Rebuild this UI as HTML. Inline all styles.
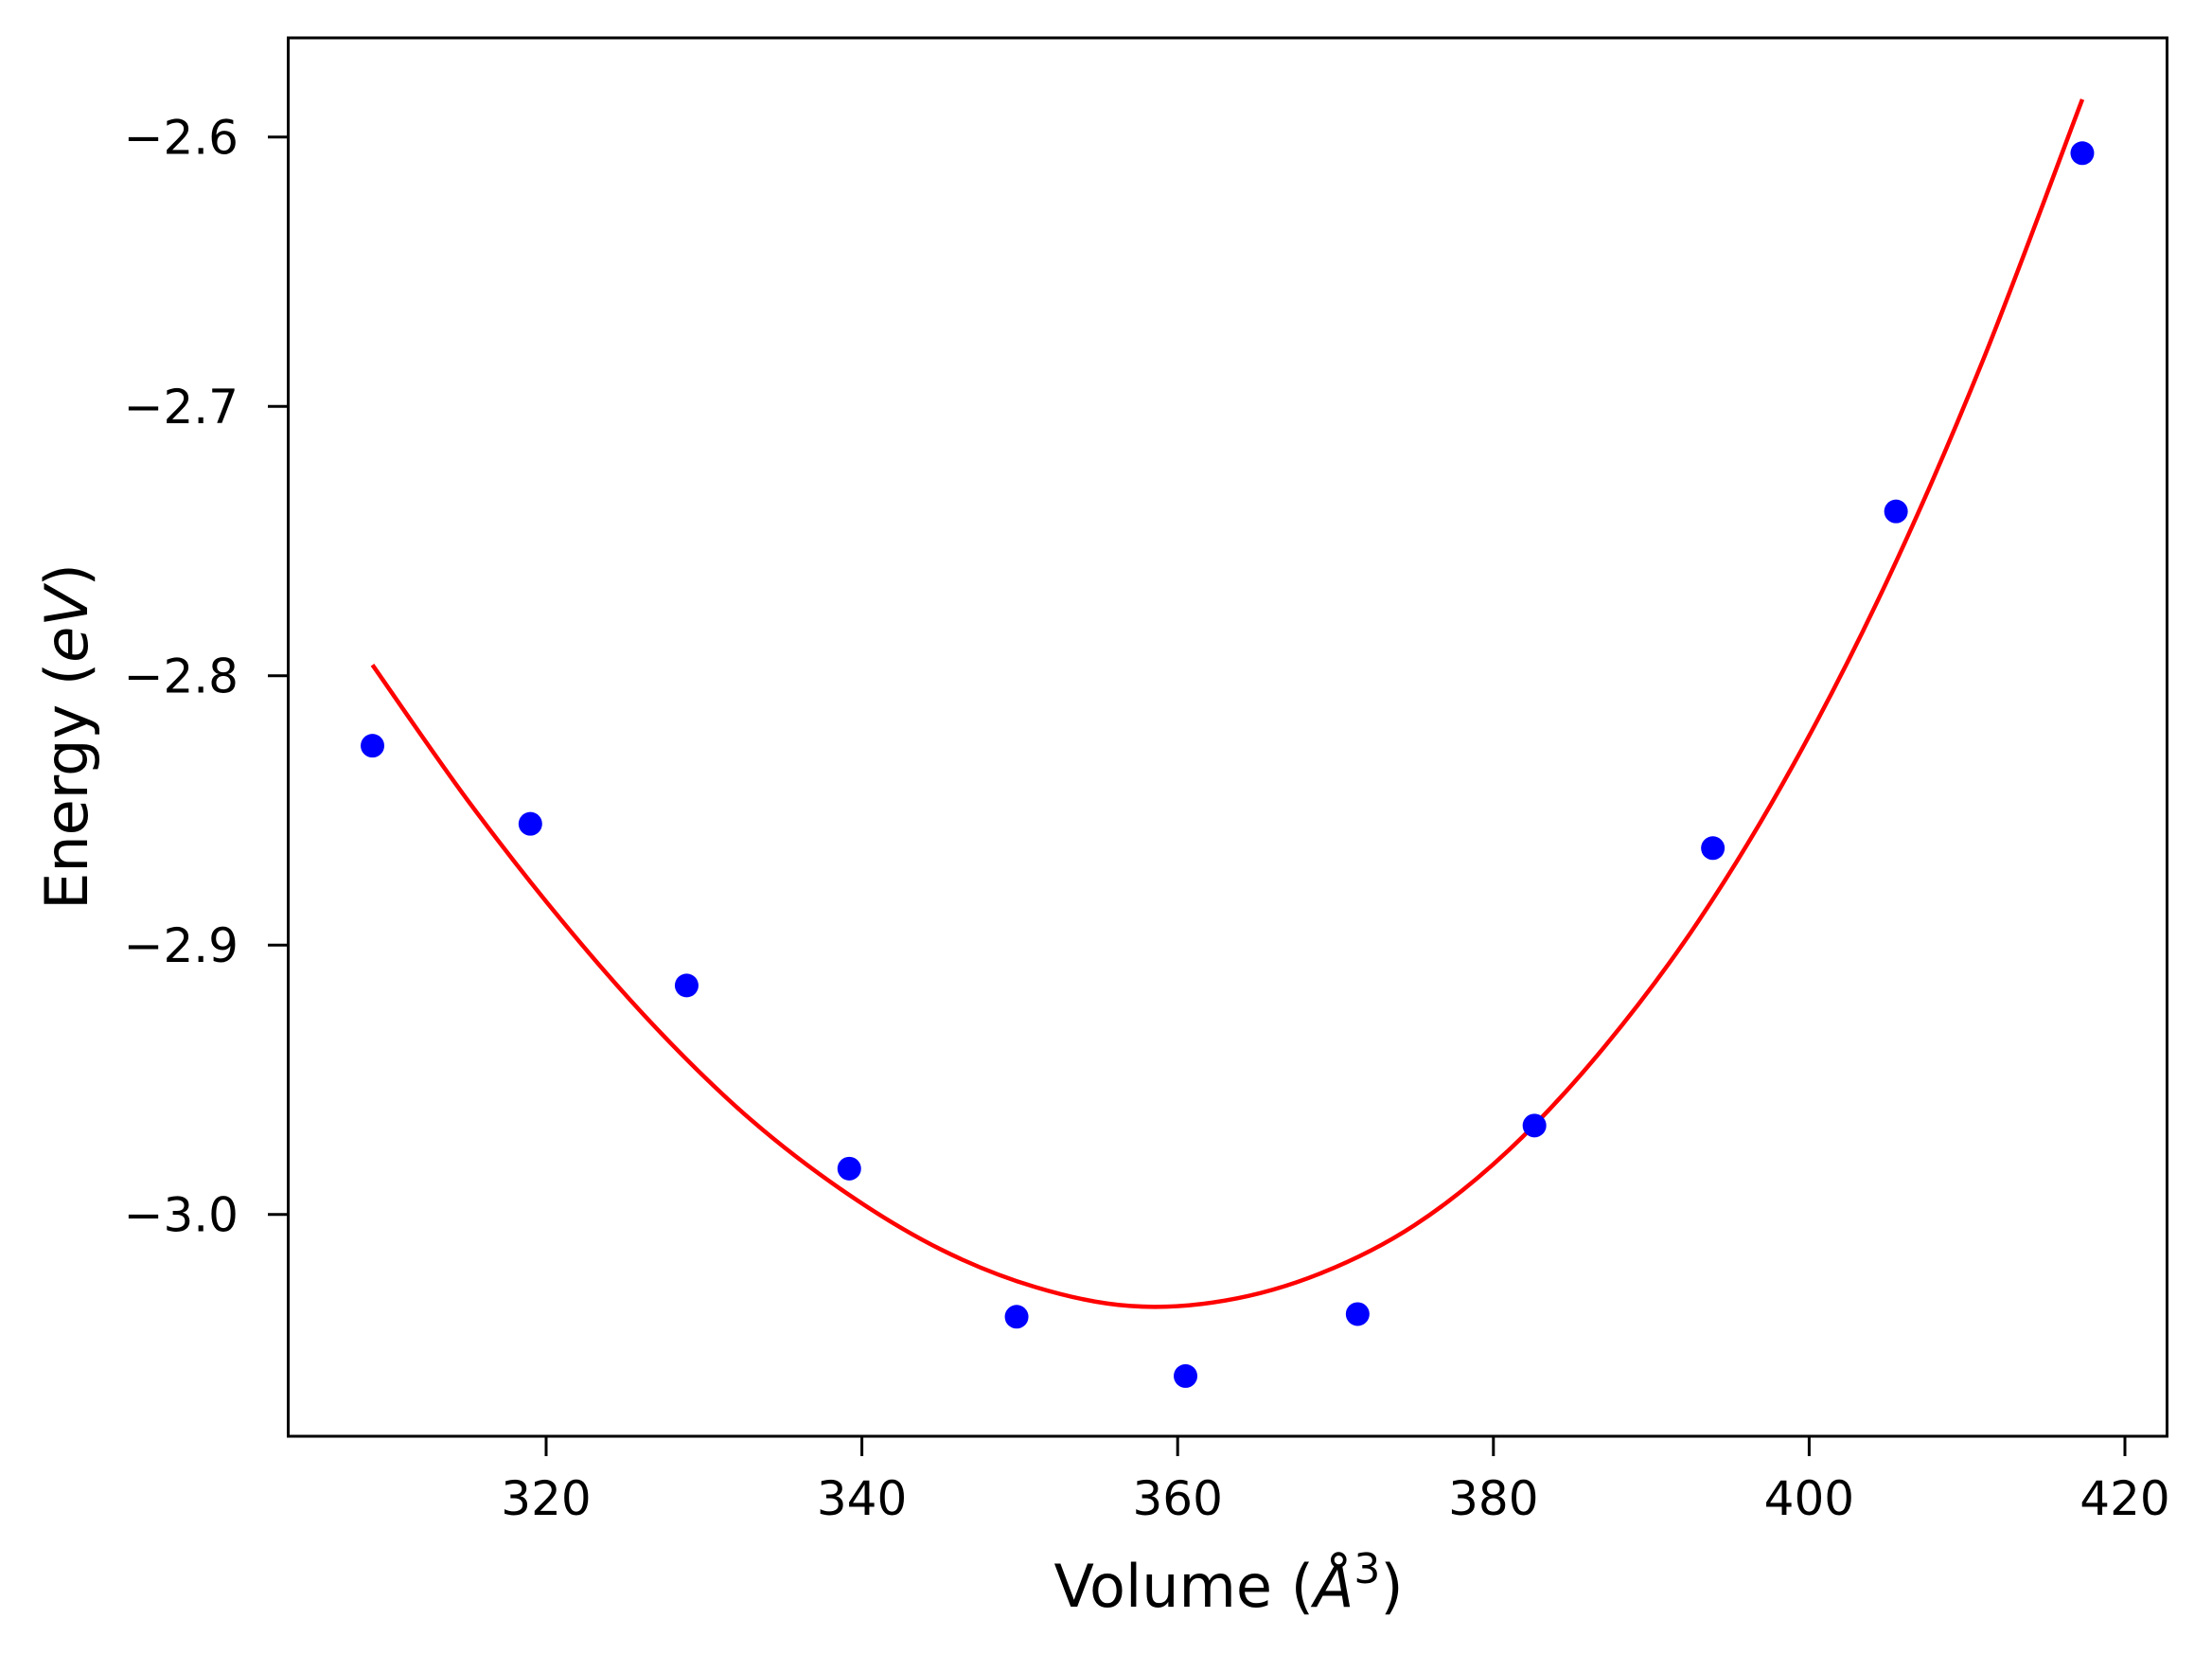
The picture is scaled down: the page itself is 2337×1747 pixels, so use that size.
<!DOCTYPE html>
<html><head><meta charset="utf-8"><style>
html,body{margin:0;padding:0;background:#fff;}
svg{display:block;}
text{font-family:"DejaVu Sans","Liberation Sans",sans-serif;fill:#000;}
</style></head><body>
<svg id="chart" width="2337" height="1747" viewBox="0 0 2337 1747" xmlns="http://www.w3.org/2000/svg">
<rect x="0" y="0" width="2337" height="1747" fill="#fff"/>
<g id="plot"></g>
<rect x="304.5" y="40" width="1985" height="1477" fill="none" stroke="#000" stroke-width="3"/>
<g id="xticks"></g><g id="yticks"></g>
<text x="1298" y="1697" font-size="62" text-anchor="middle">Volume (<tspan font-style="italic">Å</tspan><tspan font-size="44" dy="-25">3</tspan><tspan dy="25">)</tspan></text>
<text x="0" y="0" font-size="62" text-anchor="middle" transform="translate(92,778) rotate(-90)">Energy (<tspan font-style="italic">eV</tspan>)</text>
</svg>
<script>
const pointVolumes=[309.0,319.0,328.9,339.2,349.8,360.5,371.4,382.6,393.9,405.5,417.3];
const pointEnergies=[-2.826,-2.855,-2.915,-2.983,-3.038,-3.060,-3.037,-2.967,-2.864,-2.739,-2.606];
const fitVolumes=[309,315,321,327,333,339,345,351,357,363,369,375,381,387,393,399,405,411,417.3];
const fitEnergies=[-2.796,-2.846,-2.891,-2.931,-2.965,-2.992,-3.013,-3.027,-3.034,-3.032,-3.022,-3.004,-2.976,-2.938,-2.891,-2.833,-2.764,-2.683,-2.586];
const xTicks=[320,340,360,380,400,420];
const yTicks=[-2.6,-2.7,-2.8,-2.9,-3.0];
const yTickLabels=["\u22122.6","\u22122.7","\u22122.8","\u22122.9","\u22123.0"];

const NS="http://www.w3.org/2000/svg";
function X(v){return 577+(v-320)*16.68;}
function Y(e){return 144.7+(-2.6-e)*2845;}

const plot=document.getElementById('plot');
const pts=fitVolumes.map((v,i)=>[X(v),Y(fitEnergies[i])]);
let d='M'+pts[0][0].toFixed(1)+','+pts[0][1].toFixed(1);
for(let i=0;i<pts.length-1;i++){
  const p0=pts[Math.max(0,i-1)],p1=pts[i],p2=pts[i+1],p3=pts[Math.min(pts.length-1,i+2)];
  const c1=[p1[0]+(p2[0]-p0[0])/6,p1[1]+(p2[1]-p0[1])/6];
  const c2=[p2[0]-(p3[0]-p1[0])/6,p2[1]-(p3[1]-p1[1])/6];
  d+=' C'+c1[0].toFixed(1)+','+c1[1].toFixed(1)+' '+c2[0].toFixed(1)+','+c2[1].toFixed(1)+' '+p2[0].toFixed(1)+','+p2[1].toFixed(1);
}
const path=document.createElementNS(NS,'path');


path.setAttribute('d',d);
path.setAttribute('fill','none');path.setAttribute('stroke','#ff0000');path.setAttribute('stroke-width','4.5');path.setAttribute('stroke-linejoin','round');
plot.appendChild(path);
pointVolumes.forEach((v,i)=>{
  const c=document.createElementNS(NS,'circle');
  
  
  c.setAttribute('cx',X(v));c.setAttribute('cy',Y(pointEnergies[i]));c.setAttribute('r','12.5');c.setAttribute('fill','#0000ff');
  plot.appendChild(c);
});
const xt=document.getElementById('xticks');
xTicks.forEach(t=>{
  const l=document.createElementNS(NS,'line');
  
  
  l.setAttribute('x1',X(t));l.setAttribute('x2',X(t));l.setAttribute('y1',1517);l.setAttribute('y2',1538);l.setAttribute('stroke','#000');l.setAttribute('stroke-width','3');
  xt.appendChild(l);
  const tx=document.createElementNS(NS,'text');
  
  
  tx.setAttribute('x',X(t));tx.setAttribute('y',1600);tx.setAttribute('font-size','50');tx.setAttribute('text-anchor','middle');
  tx.textContent=t;xt.appendChild(tx);
});
const yt=document.getElementById('yticks');
yTicks.forEach((t,i)=>{
  const l=document.createElementNS(NS,'line');
  
  
  l.setAttribute('x1',283);l.setAttribute('x2',305);l.setAttribute('y1',Y(t));l.setAttribute('y2',Y(t));l.setAttribute('stroke','#000');l.setAttribute('stroke-width','3');
  yt.appendChild(l);
  const tx=document.createElementNS(NS,'text');
  
  
  tx.setAttribute('x',252);tx.setAttribute('y',Y(t)+18);tx.setAttribute('font-size','50');tx.setAttribute('text-anchor','end');
  tx.textContent=yTickLabels[i];yt.appendChild(tx);
});
</script>
</body></html>
